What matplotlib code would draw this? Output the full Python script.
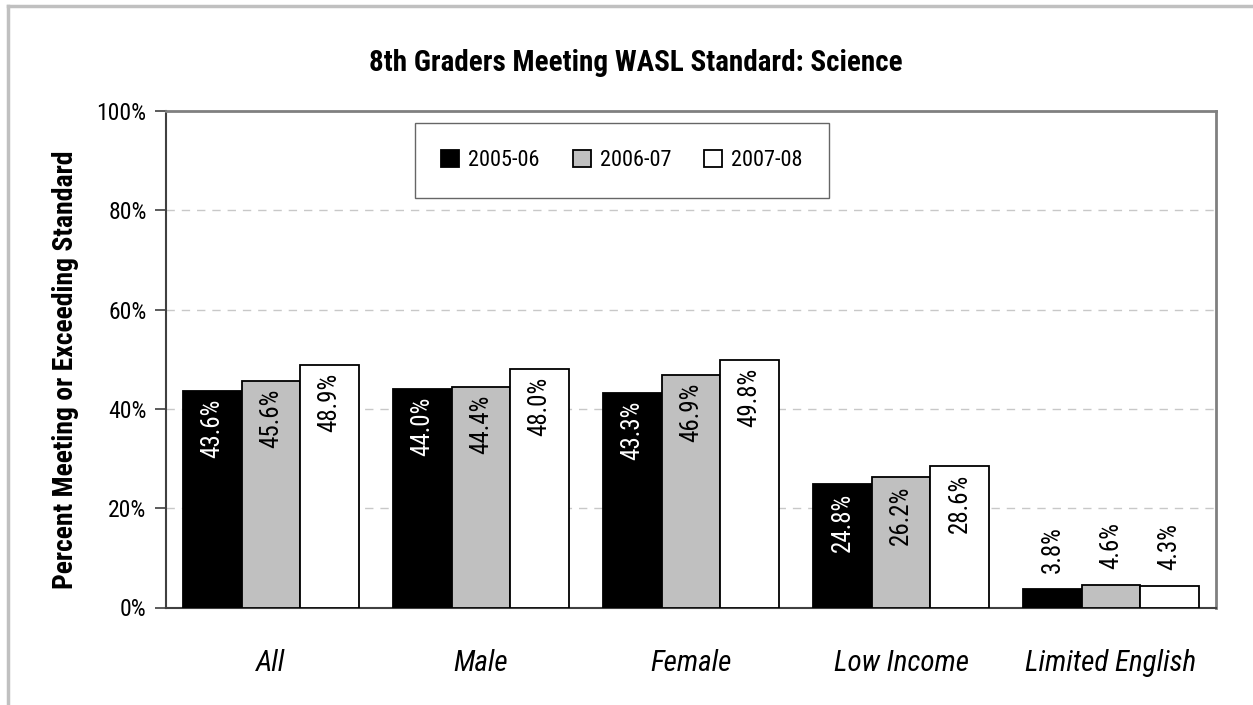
import matplotlib
matplotlib.use("Agg")
import matplotlib.pyplot as plt
from matplotlib import font_manager
from matplotlib.lines import Line2D
import numpy as np

# Data
groups = ['All', 'Male', 'Female', 'Low Income', 'Limited English']
years = ['2005-06', '2006-07', '2007-08']
y2005 = [43.6, 44.0, 43.3, 24.8, 3.8]
y2006 = [45.6, 44.4, 46.9, 26.2, 4.6]
y2007 = [48.9, 48.0, 49.8, 28.6, 4.3]
colors = ['#000000', '#c0c0c0', '#ffffff']

# narrow font: Roboto Condensed if there, else condensed DejaVu Sans
names = {f.name for f in font_manager.fontManager.ttflist}
if 'Roboto Condensed' in names:
    plt.rcParams['font.family'] = ['Roboto Condensed', 'DejaVu Sans']
else:
    plt.rcParams['font.family'] = ['DejaVu Sans']
    plt.rcParams['font.stretch'] = 'condensed'

W, H = 1253, 705
fig = plt.figure(figsize=(W / 100, H / 100), dpi=100)
ax = fig.add_axes([166 / W, 1 - 607.5 / H, (1216 - 166) / W, (607.5 - 111) / H])

x = np.arange(len(groups))
width = 0.279
series = [y2005, y2006, y2007]
for i, (vals, c, lab) in enumerate(zip(series, colors, years)):
    pos = x + (i - 1) * width
    ax.bar(pos, vals, width, color=c, edgecolor='black', linewidth=1.3,
           label=lab, zorder=3)
    for p, v in zip(pos, vals):
        txt = f'{v:.1f}%'
        if v > 15:
            tc = 'white' if i == 0 else 'black'
            ax.text(p, v - 1.6, txt, rotation=90, ha='center', va='top',
                    color=tc, fontsize=18, zorder=4)
        else:
            ax.text(p, v + 3.2, txt, rotation=90, ha='center', va='bottom',
                    color='black', fontsize=18, zorder=4)

ax.set_xlim(-0.5, len(groups) - 0.5)
ax.set_ylim(0, 100)
ax.set_yticks([0, 20, 40, 60, 80, 100])
ax.set_yticklabels(['0%', '20%', '40%', '60%', '80%', '100%'], fontsize=17)
ax.set_xticks(x)
ax.set_xticklabels(groups, fontsize=21, style='italic')
ax.tick_params(axis='x', length=0, pad=30)
ax.tick_params(axis='y', length=8, width=1.2, color='#404040', pad=6)

for yv in [20, 40, 60, 80]:
    ax.axhline(yv, color='#c8c8c8', linestyle=(0, (6, 5)), linewidth=1, zorder=1)

for s in ['top', 'right']:
    ax.spines[s].set_color('#808080')
    ax.spines[s].set_linewidth(2)
for s in ['left', 'bottom']:
    ax.spines[s].set_color('#404040')
    ax.spines[s].set_linewidth(1.5)

ax.set_ylabel('Percent Meeting or Exceeding Standard', fontsize=20,
              fontweight='bold')
ax.yaxis.set_label_coords((79 - 166) / 1050, (607.5 - 370) / 496.5)

fig.text(636 / W, 1 - 63 / H, '8th Graders Meeting WASL Standard: Science',
         ha='center', va='center', fontsize=21, fontweight='bold')

leg = ax.legend(loc='center', bbox_to_anchor=(622 / W, 1 - 160.5 / H),
                bbox_transform=fig.transFigure, ncol=3, fontsize=16,
                frameon=True, fancybox=False, handlelength=0.8,
                handleheight=0.8, handletextpad=0.4, columnspacing=1.5,
                borderpad=1.2, borderaxespad=0)
leg.get_frame().set_edgecolor('#404040')
leg.get_frame().set_linewidth(1)

# outer light-gray frame (top and left edges)
fig.add_artist(Line2D([8 / W, 1], [1 - 6 / H, 1 - 6 / H], color='#c0c0c0',
                      linewidth=2.5, transform=fig.transFigure))
fig.add_artist(Line2D([8 / W, 8 / W], [0, 1 - 6 / H], color='#c0c0c0',
                      linewidth=2.5, transform=fig.transFigure))

fig.savefig('out.png', dpi=100)
